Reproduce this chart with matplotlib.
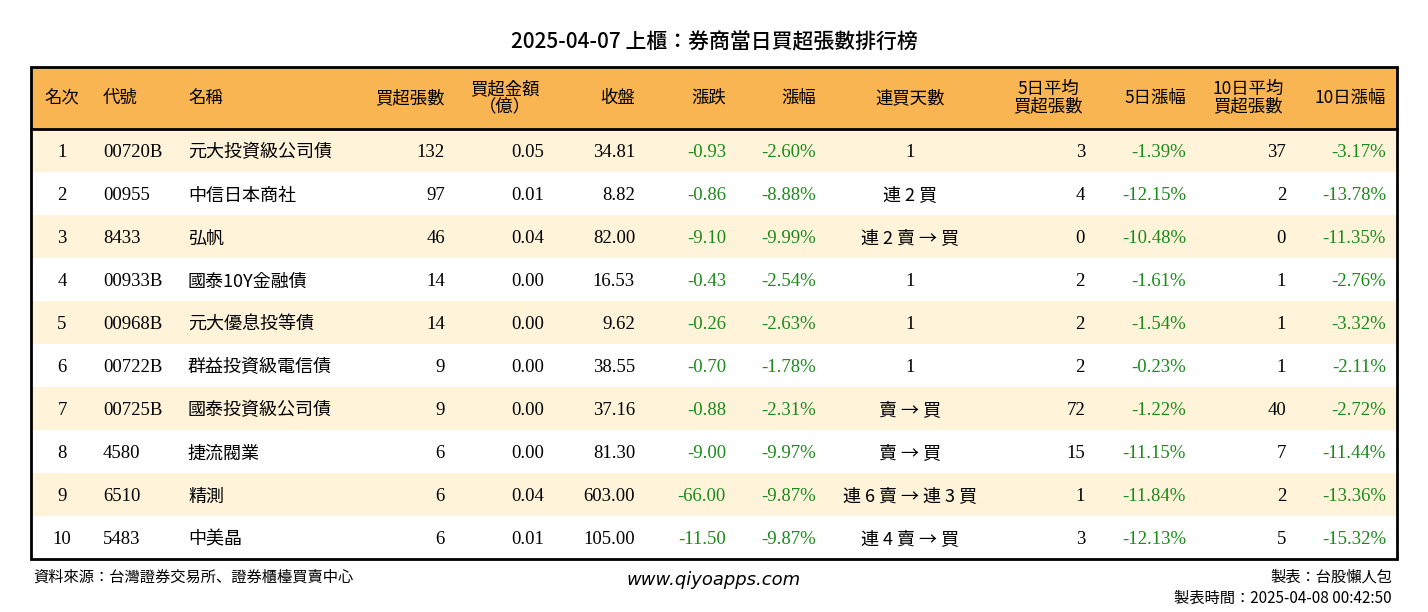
import matplotlib
matplotlib.use("Agg")
import matplotlib.pyplot as plt
from matplotlib.patches import Rectangle

title_date = "2025-04-07"
title_text = "上櫃：券商當日買超張數排行榜"
headers = ["名次", "代號", "名稱", "買超張數", "買超金額\n（億）", "收盤", "漲跌", "漲幅", "連買天數",
           "5日平均\n買超張數", "5日漲幅", "10日平均\n買超張數", "10日漲幅"]
ranks = [1, 2, 3, 4, 5, 6, 7, 8, 9, 10]
codes = ["00720B", "00955", "8433", "00933B", "00968B", "00722B", "00725B", "4580", "6510", "5483"]
names = ["元大投資級公司債", "中信日本商社", "弘帆", "國泰10Y金融債", "元大優息投等債", "群益投資級電信債",
         "國泰投資級公司債", "捷流閥業", "精測", "中美晶"]
net_buy = [132, 97, 46, 14, 14, 9, 9, 6, 6, 6]
amount = ["0.05", "0.01", "0.04", "0.00", "0.00", "0.00", "0.00", "0.00", "0.04", "0.01"]
close = ["34.81", "8.82", "82.00", "16.53", "9.62", "38.55", "37.16", "81.30", "603.00", "105.00"]
change = ["-0.93", "-0.86", "-9.10", "-0.43", "-0.26", "-0.70", "-0.88", "-9.00", "-66.00", "-11.50"]
pct = ["-2.60%", "-8.88%", "-9.99%", "-2.54%", "-2.63%", "-1.78%", "-2.31%", "-9.97%", "-9.87%", "-9.87%"]
streak = ["1", "連 2 買", "連 2 賣 → 買", "1", "1", "1", "賣 → 買", "賣 → 買", "連 6 賣 → 連 3 買", "連 4 賣 → 買"]
avg5 = [3, 4, 0, 2, 2, 2, 72, 15, 1, 3]
pct5 = ["-1.39%", "-12.15%", "-10.48%", "-1.61%", "-1.54%", "-0.23%", "-1.22%", "-11.15%", "-11.84%", "-12.13%"]
avg10 = [37, 2, 0, 1, 1, 1, 40, 7, 2, 5]
pct10 = ["-3.17%", "-13.78%", "-11.35%", "-2.76%", "-3.32%", "-2.11%", "-2.72%", "-11.44%", "-13.36%", "-15.32%"]

W, H = 1428, 612
fig = plt.figure(figsize=(W / 100, H / 100), dpi=100)
ax = fig.add_axes([0, 0, 1, 1])
ax.set_xlim(0, W); ax.set_ylim(H, 0); ax.axis("off")

CJK = "Noto Sans CJK JP"
SER = "Liberation Serif"
GREEN = "#1a8a1a"
L, R, T, HB = 31, 1397, 67, 129
RH = 43

def fam_for(s):
    return SER if all(ord(c) < 128 for c in s) else CJK

ax.text(714, 42, title_date + " " + title_text, ha="center", va="center", fontsize=15, fontfamily=CJK,
        fontweight="medium")
ax.add_patch(Rectangle((L, T), R - L, HB - T, facecolor="#F8B551", edgecolor="none"))
for i in range(10):
    y0 = HB + i * RH
    if i % 2 == 0:
        ax.add_patch(Rectangle((L, y0), R - L, RH, facecolor="#FFF4DA", edgecolor="none"))
ax.add_patch(Rectangle((L, T), R - L, HB + 10 * RH - T, facecolor="none", edgecolor="black", lw=2))
ax.plot([L, R], [HB, HB], color="black", lw=2)

hcols = [(62, "center"), (103, "left"), (188, "left"), (445, "right"), (505, "center"), (635, "right"),
         (726, "right"), (816, "right"), (910, "center"), (1048, "center"), (1186, "right"), (1248, "center"),
         (1386, "right")]
hy = (T + HB) / 2
for (x, ha), h in zip(hcols, headers):
    ax.text(x, hy, h, ha=ha, va="center", fontsize=12.5, fontfamily=CJK, linespacing=0.95,
            multialignment="center")

vcols = [(62, "center"), (103, "left"), (188, "left"), (445, "right"), (544, "right"), (635, "right"),
         (726, "right"), (816, "right"), (910, "center"), (1085, "right"), (1186, "right"), (1286, "right"),
         (1386, "right")]
for i in range(10):
    yc = HB + i * RH + RH / 2 + 2
    vals = [str(ranks[i]), codes[i], names[i], str(net_buy[i]), amount[i], close[i], change[i], pct[i],
            streak[i], str(avg5[i]), pct5[i], str(avg10[i]), pct10[i]]
    for j, ((x, ha), v) in enumerate(zip(vcols, vals)):
        color = GREEN if j in (6, 7, 10, 12) else "black"
        f = fam_for(v)
        ax.text(x, yc, v, ha=ha, va="center", fontsize=13.5 if f == SER else 13, color=color, fontfamily=f)

ax.text(33, 577, "資料來源：台灣證券交易所、證券櫃檯買賣中心", ha="left", va="center", fontsize=11, fontfamily=CJK)
ax.text(714, 580, "www.qiyoapps.com", ha="center", va="center", fontsize=13, style="italic",
        fontfamily="DejaVu Sans")
ax.text(1392, 577, "製表：台股懶人包", ha="right", va="center", fontsize=11, fontfamily=CJK)
ax.text(1392, 598, "製表時間：2025-04-08 00:42:50", ha="right", va="center", fontsize=11, fontfamily=CJK)

fig.savefig("out.png", dpi=100)
